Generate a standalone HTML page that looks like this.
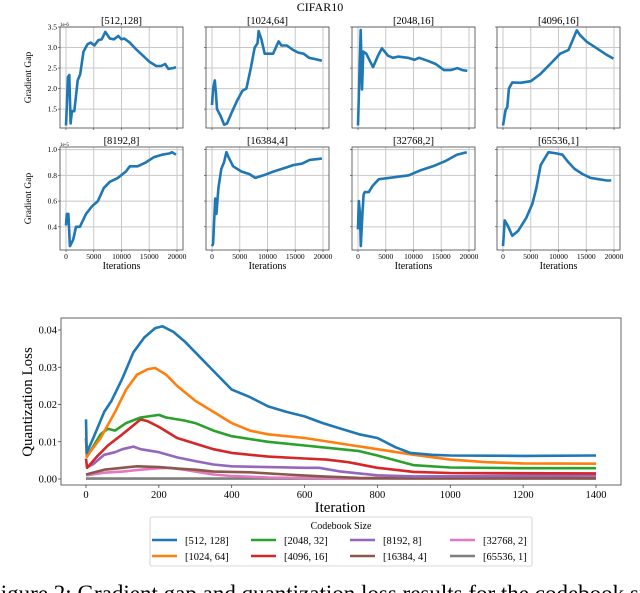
<!DOCTYPE html>
<html><head><meta charset="utf-8">
<style>
html,body{margin:0;padding:0;background:#fff;overflow:hidden;}
svg{display:block;font-family:"Liberation Serif",serif;}
</style></head>
<body>
<svg id="fig" width="640" height="593" viewBox="0 0 640 593" xmlns="http://www.w3.org/2000/svg">
<text x="320" y="11" font-size="12" text-anchor="middle">CIFAR10</text>
<g id="grid"></g>
<g id="bottom"></g>
<text x="-12" y="601" font-size="23">Figure 2: Gradient gap and quantization loss results for the codebook sizes and</text>
</svg>
<script>
// ---------- Top grid data ----------
const panelTitles = ["[512,128]","[1024,64]","[2048,16]","[4096,16]","[8192,8]","[16384,4]","[32768,2]","[65536,1]"];
const xTicksTop = [0,5000,10000,15000,20000];
const row1Ticks = [1.5,2.0,2.5,3.0,3.5];
const row2Ticks = [0.4,0.6,0.8,1.0];
const p1x = [0,360,600,830,1070,1500,2100,2550,3150,3870,4460,5120,5830,6430,7080,7900,8630,9400,10000,10480,11500,12680,13870,15060,16250,17140,17860,18450,19230,19820];
const p1y = [1.1,2.28,2.33,1.15,1.45,1.45,2.2,2.35,2.9,3.08,3.12,3.05,3.18,3.2,3.38,3.22,3.2,3.28,3.2,3.22,3.12,2.95,2.8,2.65,2.55,2.55,2.6,2.48,2.5,2.52];
const p2x = [0,200,500,700,900,1500,2200,2700,3500,4500,5500,6200,7000,7700,8200,8400,8900,9500,10500,11000,12000,12500,13500,14500,15500,16500,17500,18500,19800];
const p2y = [1.6,2.0,2.2,1.9,1.5,1.35,1.12,1.15,1.4,1.7,1.95,2.0,2.5,3.0,3.1,3.4,3.2,2.85,2.85,2.85,3.15,3.05,3.05,2.95,2.88,2.85,2.75,2.72,2.68];
const p3x = [0,480,720,950,1500,2700,3600,4300,5400,6300,7200,9000,10150,11000,12500,14000,15500,16700,17900,18800,19700];
const p3y = [1.1,3.43,1.98,2.9,2.85,2.52,2.8,2.98,2.8,2.75,2.78,2.75,2.7,2.75,2.68,2.6,2.45,2.45,2.5,2.45,2.43];
const p4x = [0,470,780,1070,1670,3150,5000,6700,8500,10300,11800,13300,13900,15100,16900,18700,19900];
const p4y = [1.1,1.48,1.55,2.0,2.15,2.14,2.18,2.35,2.6,2.85,2.94,3.42,3.3,3.14,2.98,2.82,2.73];
const p5x = [0,150,430,700,1300,1800,2500,3600,4700,5750,6800,7900,9350,10800,11500,12900,14400,15800,17300,18700,19100,19800];
const p5y = [0.41,0.5,0.5,0.25,0.3,0.4,0.4,0.5,0.56,0.6,0.7,0.75,0.78,0.83,0.87,0.87,0.9,0.94,0.96,0.97,0.98,0.96];
const p6x = [0,200,580,800,1150,1670,2170,2600,3100,3800,5300,6700,7800,9300,11100,13300,14700,16200,17600,19800];
const p6y = [0.25,0.27,0.62,0.5,0.7,0.85,0.9,0.98,0.93,0.87,0.83,0.81,0.78,0.8,0.83,0.86,0.88,0.89,0.92,0.93];
const p7x = [0,150,360,500,800,1000,1230,1950,2670,3750,5560,9170,11300,13500,15700,17800,19600];
const p7y = [0.38,0.6,0.5,0.25,0.5,0.65,0.67,0.67,0.72,0.77,0.78,0.8,0.84,0.87,0.91,0.96,0.98];
const p8x = [0,300,950,1670,2760,4200,5300,6000,6800,7500,8200,9600,10700,11800,12900,14300,15800,17200,18700,19500];
const p8y = [0.25,0.45,0.4,0.33,0.37,0.47,0.58,0.7,0.88,0.93,0.98,0.97,0.96,0.9,0.85,0.81,0.78,0.77,0.76,0.76];
const panelXs = [p1x,p2x,p3x,p4x,p5x,p6x,p7x,p8x];
const panelYs = [p1y,p2y,p3y,p4y,p5y,p6y,p7y,p8y];

// ---------- Bottom chart data ----------
const seriesNames = ["[512, 128]","[1024, 64]","[2048, 32]","[4096, 16]","[8192, 8]","[16384, 4]","[32768, 2]","[65536, 1]"];
const seriesColors = ["#1f77b4","#ff7f0e","#2ca02c","#d62728","#9467bd","#8c564b","#e377c2","#7f7f7f"];
const bxTicks = [0,200,400,600,800,1000,1200,1400];
const byTicks = [0,0.01,0.02,0.03,0.04];
const byTickLabels = ["0.00","0.01","0.02","0.03","0.04"];
const s0x=[0,2,20,50,70,100,130,160,190,210,240,270,300,350,400,450,500,550,600,650,700,750,800,850,890,950,1000,1200,1400];
const s0y=[0.016,0.007,0.011,0.018,0.021,0.027,0.034,0.038,0.0405,0.041,0.0395,0.037,0.034,0.029,0.024,0.022,0.0195,0.018,0.0168,0.015,0.0135,0.012,0.011,0.0085,0.007,0.0065,0.0063,0.0062,0.0063];
const s1x=[0,2,40,80,110,140,170,190,220,250,300,350,400,450,500,600,700,800,900,1000,1100,1200,1400];
const s1y=[0.011,0.006,0.011,0.018,0.024,0.028,0.0295,0.0298,0.028,0.025,0.021,0.018,0.015,0.013,0.012,0.011,0.0095,0.008,0.0065,0.0052,0.0045,0.0042,0.0041];
const s2x=[0,3,40,60,80,110,150,200,220,270,300,350,400,500,600,700,750,800,900,1000,1200,1400];
const s2y=[0.011,0.006,0.012,0.0135,0.013,0.015,0.0165,0.0172,0.0165,0.0157,0.015,0.013,0.0115,0.01,0.009,0.008,0.0075,0.0063,0.0037,0.0031,0.0029,0.0029];
const s3x=[0,3,30,60,100,150,170,200,250,300,350,400,500,600,660,720,800,900,1000,1400];
const s3y=[0.0055,0.003,0.006,0.009,0.012,0.016,0.0155,0.014,0.011,0.0095,0.008,0.007,0.006,0.0055,0.0052,0.0045,0.003,0.0019,0.0016,0.0015];
const s4x=[0,20,50,80,100,130,150,200,250,300,350,400,500,600,640,700,800,900,1400];
const s4y=[0.003,0.004,0.0065,0.0072,0.008,0.0087,0.008,0.0072,0.0058,0.0048,0.0039,0.0034,0.0032,0.003,0.003,0.002,0.001,0.0007,0.0009];
const s5x=[0,50,100,140,200,250,300,350,450,550,650,750,900,1400];
const s5y=[0.0012,0.0025,0.003,0.0034,0.0032,0.0028,0.0025,0.002,0.0018,0.0012,0.0007,0.0003,0.0002,0.0002];
const s6x=[0,50,100,150,200,230,270,300,350,400,500,700,1400];
const s6y=[0.001,0.0017,0.002,0.0025,0.0029,0.003,0.0025,0.002,0.0012,0.0008,0.0004,0.0002,0.0002];
const s7x=[0,1400];
const s7y=[0.0001,0.0001];
const seriesXs=[s0x,s1x,s2x,s3x,s4x,s5x,s6x,s7x];
const seriesYs=[s0y,s1y,s2y,s3y,s4y,s5y,s6y,s7y];

const NS="http://www.w3.org/2000/svg";
function mk(tag, attrs, parent){const e=document.createElementNS(NS,tag);for(const k in attrs)e.setAttribute(k,attrs[k]);parent.appendChild(e);return e;}

// ---------- draw top grid ----------
const grid=document.getElementById('grid');
const colLeft=[60,206,352,497];
const rowTop=[27,147];
const PW=123, PH=[101,103];
const yLims=[[1.04,3.5],[0.22,1.02]];
for(let i=0;i<8;i++){
  const r=Math.floor(i/4), c=i%4;
  const L=colLeft[c], T=rowTop[r], W=PW, H=PH[r];
  const g=mk('g',{},grid);
  
  
  const sx=v=>L+6+v/20000*(W-12);
  const ylo=yLims[r][0], yhi=yLims[r][1];
  const sy=v=>T+H-(v-ylo)/(yhi-ylo)*H;
  xTicksTop.forEach(t=>{
    const gl=mk('line',{x1:sx(t),x2:sx(t),y1:T,y2:T+H,stroke:'#c8c8c8','stroke-width':1},g);
    
    
    mk('line',{x1:sx(t),x2:sx(t),y1:T+H,y2:T+H+2,stroke:'#333','stroke-width':0.6},g);
    if(r===1){
      const tl=mk('text',{x:sx(t),y:T+H+9,'font-size':7.5,'text-anchor':'middle'},g);
      tl.textContent=t;
      
      
    }
  });
  const yt=r===0?row1Ticks:row2Ticks;
  yt.forEach(t=>{
    const gl=mk('line',{x1:L,x2:L+W,y1:sy(t),y2:sy(t),stroke:'#c8c8c8','stroke-width':1},g);
    
    
    mk('line',{x1:L-2,x2:L,y1:sy(t),y2:sy(t),stroke:'#333','stroke-width':0.6},g);
    if(c===0){
      const tl=mk('text',{x:L-3,y:sy(t)+2.5,'font-size':7.5,'text-anchor':'end'},g);
      tl.textContent=t.toFixed(1);
      
      
    }
  });
  const box=mk('rect',{x:L,y:T,width:W,height:H,fill:'none',stroke:'#444','stroke-width':0.8},g);
  
  
  const d=panelXs[i].map((v,k)=>(k?'L':'M')+sx(v).toFixed(1)+','+sy(panelYs[i][k]).toFixed(1)).join('');
  const p=mk('path',{d:d,fill:'none',stroke:'#1f77b4','stroke-width':2.6,'stroke-linejoin':'round'},g);
  
  
  const tt=mk('text',{x:L+W/2,y:T-3,'font-size':10.5,'text-anchor':'middle'},g);
  tt.textContent=panelTitles[i];
  
  
  if(c===0){
    const ex=mk('text',{x:L,y:T-1,'font-size':5},g);
    ex.textContent=r===0?'1e-6':'1e-5';
    
    
    const yl=mk('text',{x:0,y:0,'font-size':9.5,'text-anchor':'middle',transform:'translate(31,'+(T+H/2)+') rotate(-90)'},g);
    yl.textContent='Gradient Gap';
    
    
  }
  if(r===1){
    const xl=mk('text',{x:L+W/2,y:T+H+19,'font-size':10,'text-anchor':'middle'},g);
    xl.textContent='Iterations';
    
    
  }
}

// ---------- draw bottom chart ----------
const bot=document.getElementById('bottom');
const BL=61,BR=621,BT=318,BB=485;
const bx=v=>86+v*(596-86)/1400;
const by=v=>479-v*(479-330)/0.04;
const frame=mk('rect',{x:BL,y:BT,width:BR-BL,height:BB-BT,fill:'none',stroke:'#555','stroke-width':0.9},bot);


bxTicks.forEach(t=>{
  mk('line',{x1:bx(t),x2:bx(t),y1:BB,y2:BB+3,stroke:'#333','stroke-width':0.7},bot);
  const tl=mk('text',{x:bx(t),y:BB+13,'font-size':10.5,'text-anchor':'middle'},bot);
  tl.textContent=t;
  
  
});
byTicks.forEach((t,k)=>{
  mk('line',{x1:BL-3,x2:BL,y1:by(t),y2:by(t),stroke:'#333','stroke-width':0.7},bot);
  const tl=mk('text',{x:BL-4,y:by(t)+3.5,'font-size':10.5,'text-anchor':'end'},bot);
  tl.textContent=byTickLabels[k];
  
  
});
for(let i=seriesNames.length-1;i>=0;i--){
  const d=seriesXs[i].map((v,k)=>(k?'L':'M')+bx(v).toFixed(1)+','+by(seriesYs[i][k]).toFixed(1)).join('');
  const p=mk('path',{d:d,fill:'none',stroke:seriesColors[i],'stroke-width':2.6,'stroke-linejoin':'round'},bot);
  
  
}
const xt=mk('text',{x:340,y:512,'font-size':15,'text-anchor':'middle'},bot);
xt.textContent='Iteration';


const ytl=mk('text',{x:0,y:0,'font-size':15,'text-anchor':'middle',transform:'translate(32,402) rotate(-90)'},bot);
ytl.textContent='Quantization Loss';


// legend
const lg=mk('g',{},bot);


mk('rect',{x:150,y:517,width:382,height:49,rx:2,fill:'#fff',stroke:'#ccc','stroke-width':0.8},lg);
const lt=mk('text',{x:341,y:529,'font-size':10,'text-anchor':'middle'},lg);
lt.textContent='Codebook Size';


const colX=[152,251,350,450];
for(let i=0;i<seriesNames.length;i++){
  const c=Math.floor(i/2), r=i%2;
  const yy=540+r*16;
  const e=mk('g',{},lg);
  
  
  mk('line',{x1:colX[c],x2:colX[c]+25,y1:yy,y2:yy,stroke:seriesColors[i],'stroke-width':2.6},e);
  const t=mk('text',{x:colX[c]+33,y:yy+4,'font-size':10.5},e);
  t.textContent=seriesNames[i];
}
</script>
</body></html>
